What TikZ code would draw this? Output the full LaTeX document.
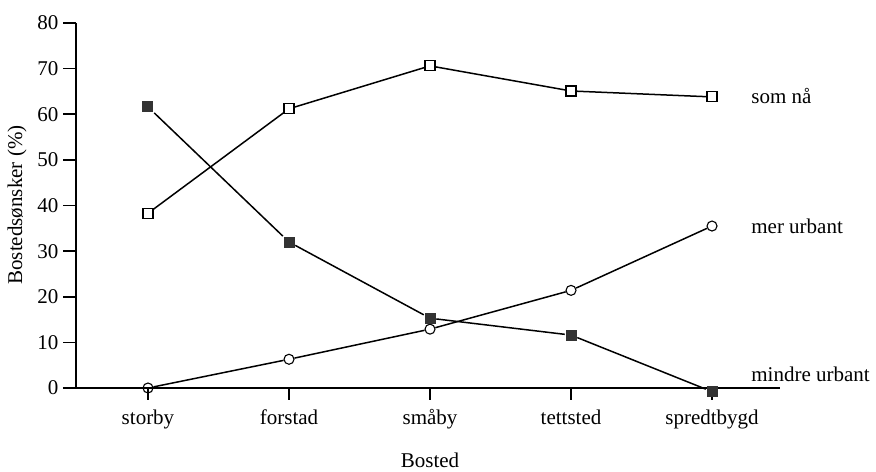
\documentclass[tikz,border=0pt]{standalone}
\usepackage{fontspec}
\setmainfont{Liberation Serif}
\usetikzlibrary{arrows}

\begin{document}
\begin{tikzpicture}[x=141pt,y=4.5625pt]
        \useasboundingbox (-1.0496,-18.19) rectangle (5.163,85.04);
        \begin{scope}[line width=1.5pt, font=\fontsize{21}{25}\selectfont,
            open node/.style={rectangle,draw,fill=white,minimum size=10pt,inner sep=0pt,line width=1.1pt},
            full node/.style={rectangle,fill=black!80,minimum size=11pt,inner sep=0pt},
            ring node/.style={circle,draw,minimum size=10pt,inner sep=0pt,line width=1.1pt},
            tick label/.style={anchor=east,inner sep=0pt},
            cat label/.style={anchor=base,inner sep=0pt}]
        % axes
        \coordinate (top) at (-0.511,80);
        \coordinate (orig) at (-0.511,0);
        \coordinate (xleft) at (-0.603,0);
        \coordinate (xright) at (4.482,0);
        \draw (top) -- (orig);
        \draw (xleft) -- (xright);
        \draw (-0.511,10) -- (-0.603,10);
        \draw (-0.511,20) -- (-0.603,20);
        \draw (-0.511,30) -- (-0.603,30);
        \draw (-0.511,40) -- (-0.603,40);
        \draw (-0.511,50) -- (-0.603,50);
        \draw (-0.511,60) -- (-0.603,60);
        \draw (-0.511,70) -- (-0.603,70);
        \draw (-0.511,80) -- (-0.603,80);
        \node[tick label] (y0) at (-0.631,0) {0};
        \node[tick label] (y10) at (-0.631,10) {10};
        \node[tick label] (y20) at (-0.631,20) {20};
        \node[tick label] (y30) at (-0.631,30) {30};
        \node[tick label] (y40) at (-0.631,40) {40};
        \node[tick label] (y50) at (-0.631,50) {50};
        \node[tick label] (y60) at (-0.631,60) {60};
        \node[tick label] (y70) at (-0.631,70) {70};
        \node[tick label] (y80) at (-0.631,80) {80};
        \draw (0,0) -- (0,-2.6);
        \draw (1,0) -- (1,-2.6);
        \draw (2,0) -- (2,-2.6);
        \draw (3,0) -- (3,-2.6);
        \draw (4,0) -- (4,-2.6);
        \node[cat label] (storby) at (0,-7.9) {storby};
        \node[cat label] (forstad) at (1,-7.9) {forstad};
        \node[cat label] (smaaby) at (2,-7.9) {småby};
        \node[cat label] (tettsted) at (3,-7.9) {tettsted};
        \node[cat label] (spredt) at (4,-7.9) {spredtbygd};
        \node[cat label] (xlabel) at (2,-17.4) {Bosted};
        \node[rotate=90] (ylabel) at (-0.929,40.1) {Bostedsønsker (\%)};

        % som nå
        \node[open node] (a1) at (0,38.3) {};
        \node[open node] (a2) at (1,61.2) {};
        \node[open node] (a3) at (2,70.6) {};
        \node[open node] (a4) at (3,65.1) {};
        \node[open node] (a5) at (4,63.8) {};
        % mer urbant
        \node[ring node] (b1) at (0,0) {};
        \node[ring node] (b2) at (1,6.3) {};
        \node[ring node] (b3) at (2,12.9) {};
        \node[ring node] (b4) at (3,21.4) {};
        \node[ring node] (b5) at (4,35.5) {};
        % mindre urbant
        \node[full node] (c1) at (0,61.6) {};
        \node[full node] (c2) at (1,32) {};
        \node[full node] (c3) at (2,15.3) {};
        \node[full node] (c4) at (3,11.6) {};
        \node[full node] (c5) at (4,-0.8) {};
        \path
        (a1) edge (a2) (a2) edge (a3) (a3) edge (a4) (a4) edge (a5)
        (b1) edge (b2) (b2) edge (b3) (b3) edge (b4) (b4) edge (b5)
        (c1) edge (c2) (c2) edge (c3) (c3) edge (c4) (c4) edge (c5);

        \node[anchor=west] (somnaa) at (4.25,64) {som nå};
        \node[anchor=west] (mer) at (4.25,35.5) {mer urbant};
        \node[anchor=west] (mindre) at (4.25,3) {mindre urbant};
        \end{scope}
    \end{tikzpicture}
\end{document}
